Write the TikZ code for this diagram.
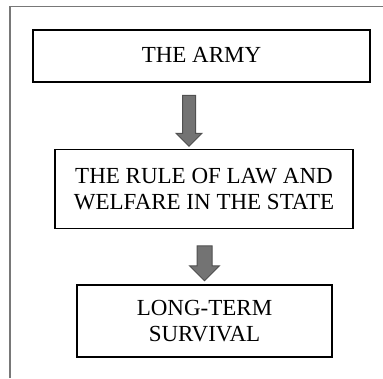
\documentclass[tikz,border=0pt]{standalone}
\usepackage{fontspec}
\setmainfont{Liberation Serif}
\usepackage{tikz}
\usetikzlibrary{shapes.arrows, positioning}
\definecolor{framegray}{RGB}{120,120,120}
\definecolor{arrowfill}{RGB}{115,115,115}
\definecolor{arrowdraw}{RGB}{80,80,80}
\tikzset{
    box/.style={rectangle, draw=black, line width=1.1pt, text centered, align=center, inner sep=0pt,
        font=\fontsize{23}{26.5}\selectfont},
    blockarrow/.style={single arrow, draw=arrowdraw, fill=arrowfill, line width=1pt, inner sep=0pt,
        minimum width=0pt, single arrow tip angle=90},
    outline/.style={draw=framegray, line width=1.5pt}
}
\begin{document}
\begin{tikzpicture}[x=1pt, y=1pt]
    \useasboundingbox (0,0) rectangle (383,-378);
    % Frame
    \draw[outline] (10,-378) -- (10,-6.5) -- (383,-6.5);

    % Boxes
    \node[box, minimum width=337pt, minimum height=52pt] (army) at (201.5,-56) {\raisebox{3pt}{THE ARMY}};
    \node[box, minimum width=298pt, minimum height=79pt] (rule) at (204,-189) {THE RULE OF LAW AND\\ WELFARE IN THE STATE};
    \node[box, minimum width=255pt, minimum height=72pt] (survival) at (204.5,-321) {LONG-TERM\\ SURVIVAL};

    % Arrows
    \node[blockarrow, rotate=-90, minimum height=51pt, inner ysep=6pt, single arrow head extend=6.5pt] (step1) at (189,-117.5) {};
    \node[blockarrow, rotate=-90, minimum height=35pt, inner ysep=7pt, single arrow head extend=7.5pt] (step2) at (204.5,-259.5) {};
\end{tikzpicture}
\end{document}
